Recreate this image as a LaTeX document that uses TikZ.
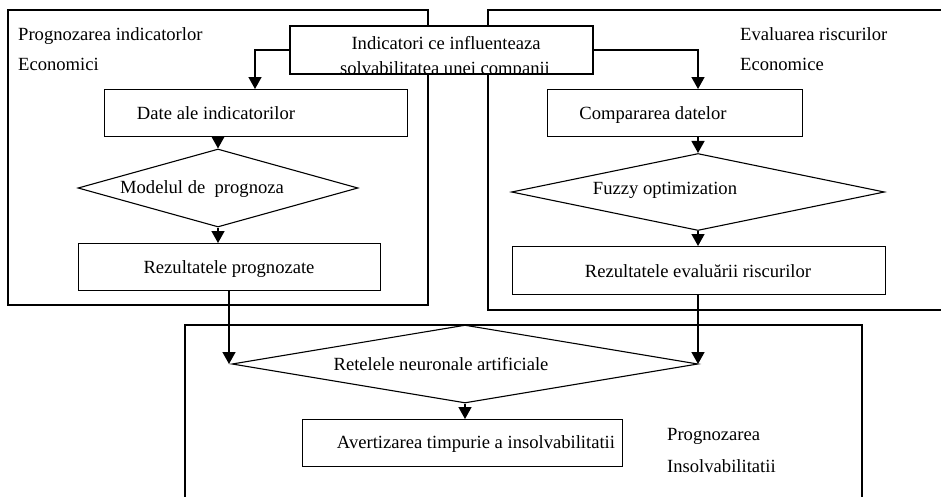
\documentclass[tikz,border=0pt]{standalone}
\usepackage{fontspec}
\setmainfont{Liberation Serif}
\usetikzlibrary{arrows.meta,shapes.geometric}
\tikzset{
  x=1pt,y=-1pt,
  every node/.style={font=\fontsize{18.6}{24}\selectfont},
  outerbox/.style={draw,line width=1.1pt},
  procbox/.style={draw,line width=1.1pt,fill=white,anchor=north west,inner sep=0pt},
  decbox/.style={draw,diamond,line width=1.1pt,inner sep=0pt,aspect=3.6},
  lbl/.style={anchor=base west,inner sep=0pt},
  ctxt/.style={anchor=base,inner sep=0pt},
  flow/.style={line width=1.5pt,-{Triangle[width=13pt,length=12pt]}},
}
\begin{document}
\begin{tikzpicture}
\useasboundingbox (0,0) rectangle (941,496);
\fill[white] (0,0) rectangle (941,496);
\begin{scope}
\clip (0,0) rectangle (941,496);
% outer regions
\draw[outerbox] (8,10) rectangle (428,305);
\draw[outerbox] (488,10) rectangle (960,310);
\draw[outerbox] (185,325) rectangle (862,520);
\end{scope}
% region labels
\node[lbl] (l1a) at (18,40) {Prognozarea indicatorlor};
\node[lbl] (l1b) at (18,70.5) {Economici};
\node[lbl] (l2a) at (740,40) {Evaluarea riscurilor};
\node[lbl] (l2b) at (740,70.5) {Economice};
\node[lbl] (l3a) at (667,440) {Prognozarea};
\node[lbl] (l3b) at (667,472) {Insolvabilitatii};
% top box (text clipped by its frame)
\node[procbox,minimum width=302pt,minimum height=47pt] (ind) at (290,26) {};
\begin{scope}
\clip (ind.north west) rectangle (ind.south east);
\node[ctxt] (indt1) at (446,49) {Indicatori ce influenteaza};
\node[ctxt] (indt2) at (445,74.5) {solvabilitatea unei companii};
\end{scope}
\draw[line width=1.1pt] (ind.north west) rectangle (ind.south east);
% left column
\node[procbox,minimum width=303pt,minimum height=47pt] (date) at (104,89) {};
\node[ctxt] (datet) at (216,119) {Date ale indicatorilor};
\node[decbox,minimum width=280pt,minimum height=78pt] (model) at (218,188) {};
\node[ctxt] (modelt) at (202,193) {Modelul de\ \ prognoza};
\node[procbox,minimum width=302pt,minimum height=47pt] (rezp) at (78,243) {};
\node[ctxt] (rezpt) at (229,273) {Rezultatele prognozate};
% right column
\node[procbox,minimum width=255pt,minimum height=47pt] (comp) at (547,89) {};
\node[ctxt] (compt) at (653,119) {Compararea datelor};
\node[decbox,minimum width=373pt,minimum height=77pt] (fuzzy) at (698,192) {};
\node[ctxt] (fuzzyt) at (665,194) {Fuzzy optimization};
\node[procbox,minimum width=373pt,minimum height=48pt] (reze) at (512,246) {};
\node[ctxt] (rezet) at (698,277) {Rezultatele evaluării riscurilor};
% bottom
\node[decbox,minimum width=466pt,minimum height=78pt] (ann) at (465,364) {};
\node[ctxt] (annt) at (441,370) {Retelele neuronale artificiale};
\node[procbox,minimum width=320pt,minimum height=47pt] (avert) at (302,419) {};
\node[ctxt] (avertt) at (476,448) {Avertizarea timpurie a insolvabilitatii};
% connectors
\draw[flow] (ind.west |- 0,50) -| (date.north -| 255,0);
\draw[flow] (ind.east |- 0,50) -| (comp.north -| 698,0);
\draw[flow] (date.south -| model.north) -- (model.north);
\draw[flow] (model.south) -- (rezp.north -| model.south);
\draw[flow] (comp.south -| fuzzy.north) -- (fuzzy.north);
\draw[flow] (fuzzy.south) -- (reze.north -| fuzzy.south);
\draw[flow] (rezp.south -| 229,0) -- (ann.west -| 229,0);
\draw[flow] (reze.south -| 698,0) -- (ann.east -| 698,0);
\draw[flow] (ann.south) -- (avert.north -| ann.south);
\end{tikzpicture}
\end{document}
